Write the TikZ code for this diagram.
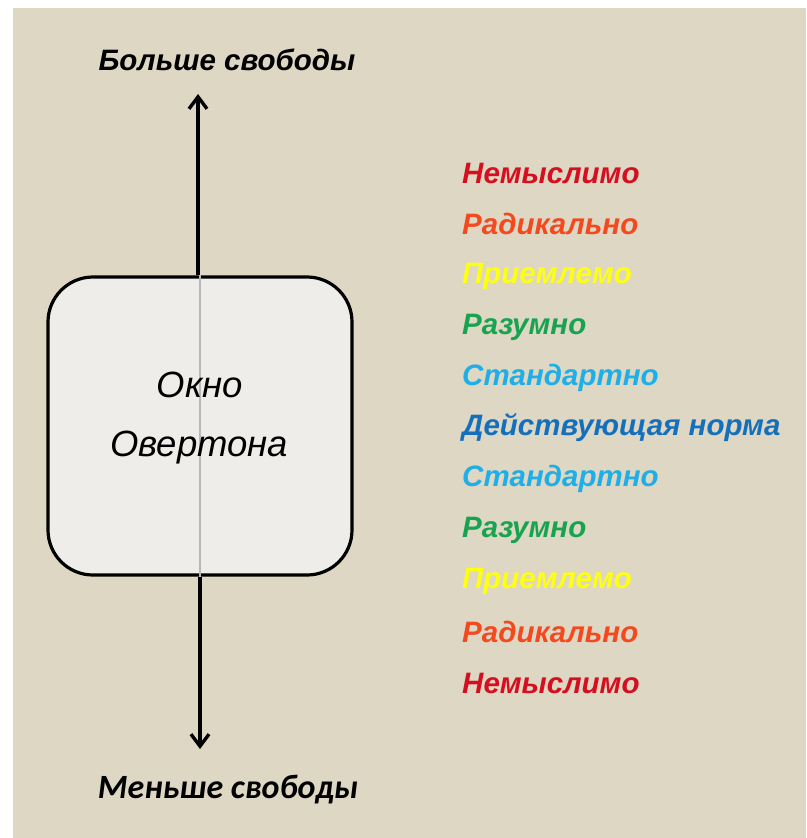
\documentclass[tikz,border=0pt]{standalone}
\usepackage{fontspec}
\setmainfont{Liberation Sans}
\newfontfamily\carl{Carlito}
\usetikzlibrary{arrows.meta}
\definecolor{bg}{HTML}{DDD7C3}
\definecolor{boxfill}{HTML}{EEEDEA}
\definecolor{cRed}{HTML}{D50F1F}
\definecolor{cOrange}{HTML}{F4481E}
\definecolor{cYellow}{HTML}{FFFF10}
\definecolor{cGreen}{HTML}{17A350}
\definecolor{cLight}{HTML}{1EAEE8}
\definecolor{cBlue}{HTML}{1570BC}
\tikzset{
  lvl/.style={anchor=west,inner sep=0pt,font=\fontsize{29.5}{34}\selectfont\bfseries\itshape},
  axis/.style={line width=3.2pt,-{Straight Barb[length=12pt,width=18pt,line width=3.4pt]}},
  ttl/.style={inner sep=0pt,font=\fontsize{29.5}{34}\selectfont\bfseries\itshape},
  inner/.style={inner sep=0pt,font=\fontsize{36.5}{40}\selectfont\itshape}
}
\begin{document}
\begin{tikzpicture}[x=1pt,y=-1pt]
\useasboundingbox (0,0) rectangle (806,838);
\fill[white] (0,0) rectangle (806,838);
\fill[bg] (13,8) rectangle (806,838);
\node[draw=black,line width=3.2pt,fill=boxfill,rounded corners=45pt,minimum width=304pt,minimum height=298pt,inner sep=0pt] (box) at (200,426) {};
\draw[color=black!28,line width=2pt] (box.north) -- (box.south);
\node[inner] (okno) at (200,385) {Окно};
\node[inner] (overt) at (199,448) {Овертона};
\coordinate (up) at (198,94);
\coordinate (dn) at (200,749);
\draw[axis] (box.north -| up) -- (up);
\draw[axis] (box.south -| dn) -- (dn);
\node[ttl] (more) at (227,60) {Больше свободы};
\node[inner sep=0pt,font=\fontsize{34}{40}\selectfont\carl\bfseries\itshape] (less) at (228,790) {Меньше свободы};
\node[lvl,text=cRed] (l1) at (462,173) {Немыслимо};
\node[lvl,text=cOrange] (l2) at (462,224) {Радикально};
\node[lvl,text=cYellow] (l3) at (462,276) {Приемлемо};
\node[lvl,text=cGreen] (l4) at (462,327) {Разумно};
\node[lvl,text=cLight] (l5) at (462,378) {Стандартно};
\node[lvl,text=cBlue] (l6) at (462,428) {Действующая норма};
\node[lvl,text=cLight] (l7) at (462,479) {Стандартно};
\node[lvl,text=cGreen] (l8) at (462,530) {Разумно};
\node[lvl,text=cYellow] (l9) at (462,581) {Приемлемо};
\node[lvl,text=cOrange] (l10) at (462,632) {Радикально};
\node[lvl,text=cRed] (l11) at (462,683) {Немыслимо};
\end{tikzpicture}
\end{document}
